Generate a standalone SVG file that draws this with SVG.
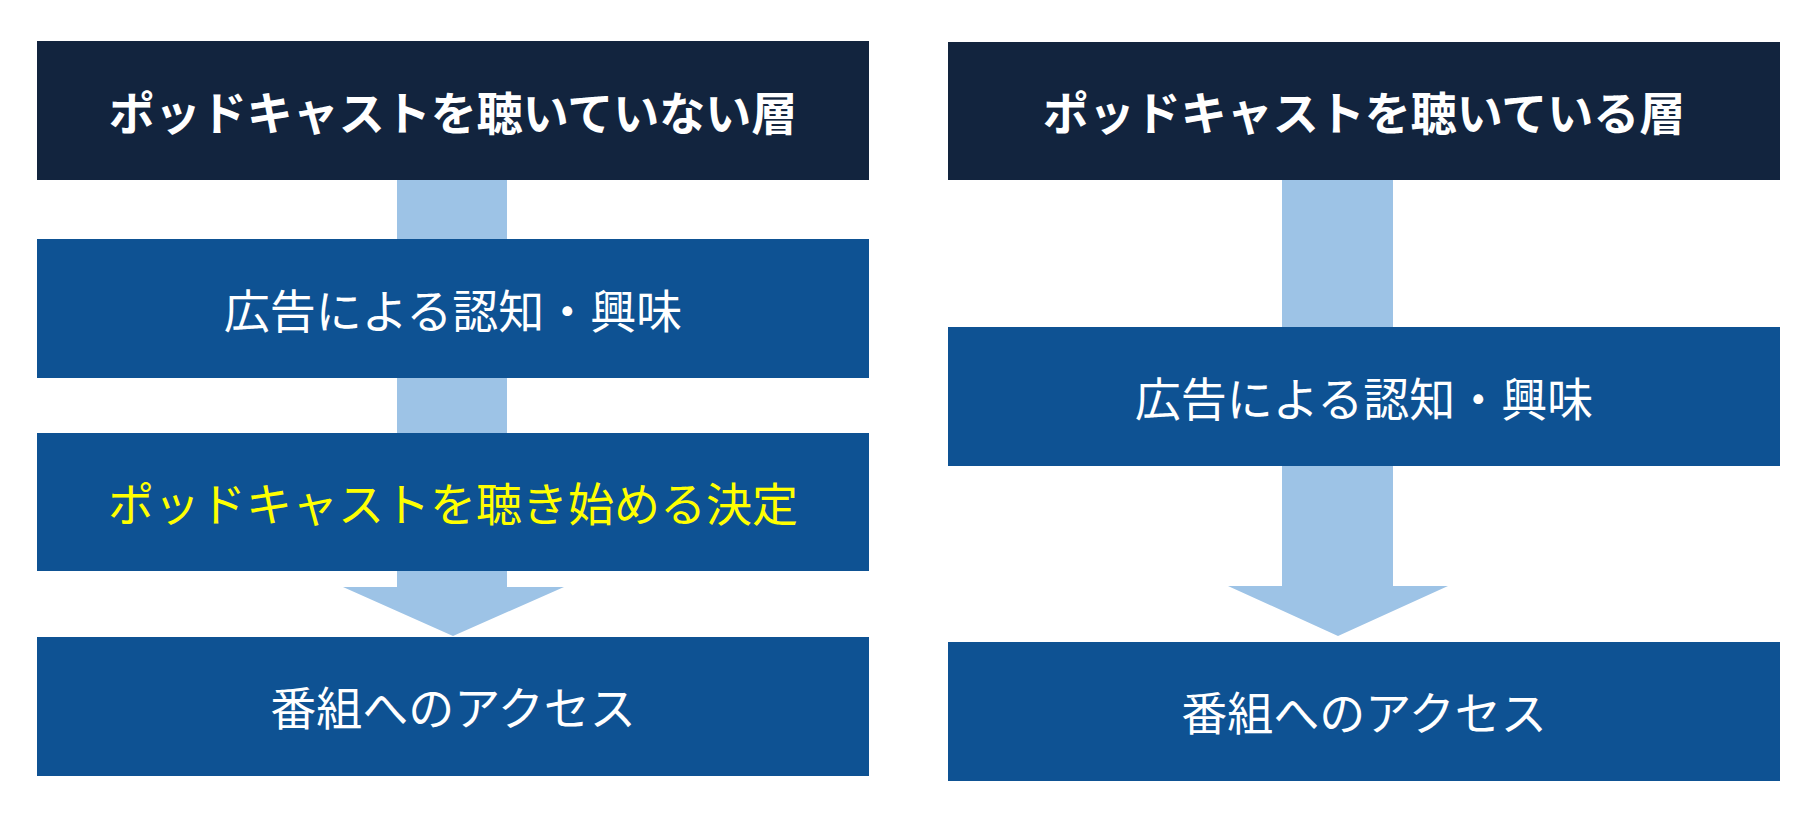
<svg xmlns="http://www.w3.org/2000/svg" width="1816" height="820" viewBox="0 0 1816 820">
<style>
.hdr{fill:#12243e}
.box{fill:#0e5293}
.arrow{fill:#9dc3e6}
text{font-family:"Noto Sans CJK JP","Noto Sans",sans-serif;font-size:46px;text-anchor:middle;dominant-baseline:central;fill:#ffffff}
.b{font-weight:bold}
.y{fill:#ffff00}
</style>
<rect width="1816" height="820" fill="#ffffff"/>
<g id="connectors">
<path class="arrow" d="M397,178 H507 V587 H564 L453,636 L343,587 H397 Z"/>
<path class="arrow" d="M1282,178 H1393 V586 H1448 L1338,636 L1228,586 H1282 Z"/>
</g>
<g id="left-header"><rect class="hdr" x="37" y="41" width="832" height="139"/><text class="b" x="453" y="110">ポッドキャストを聴いていない層</text></g>
<g id="left-awareness"><rect class="box" x="37" y="239" width="832" height="139"/><text x="453" y="308">広告による認知・興味</text></g>
<g id="left-decision"><rect class="box" x="37" y="433" width="832" height="138"/><text class="y" x="453" y="501">ポッドキャストを聴き始める決定</text></g>
<g id="left-access"><rect class="box" x="37" y="637" width="832" height="139"/><text x="453" y="705">番組へのアクセス</text></g>
<g id="right-header"><rect class="hdr" x="948" y="42" width="832" height="138"/><text class="b" x="1364" y="110">ポッドキャストを聴いている層</text></g>
<g id="right-awareness"><rect class="box" x="948" y="327" width="832" height="139"/><text x="1364" y="396">広告による認知・興味</text></g>
<g id="right-access"><rect class="box" x="948" y="642" width="832" height="139"/><text x="1364" y="710">番組へのアクセス</text></g>
</svg>
